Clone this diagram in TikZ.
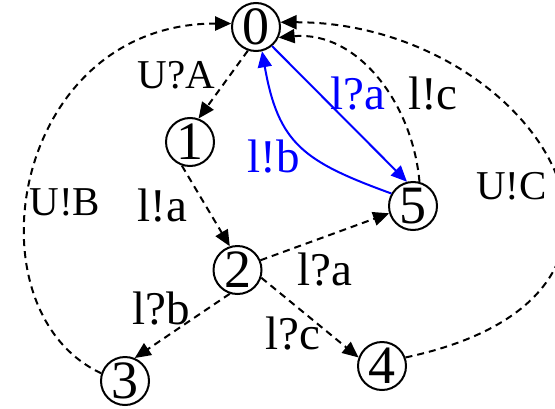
\documentclass[tikz,border=0pt]{standalone}
\usepackage{fontspec}
\setmainfont{Liberation Serif}
\usetikzlibrary{arrows.meta}

\begin{document}
\begin{tikzpicture}[
        x=0.5pt, y=0.5pt,
        state/.style={circle, draw, line width=1pt, minimum size=24pt, inner sep=0pt, font=\fontsize{27}{27}\selectfont},
        msg/.style={inner sep=0pt, font=\fontsize{23.5}{23.5}\selectfont},
        sync/.style={inner sep=0pt, font=\fontsize{20.5}{20.5}\selectfont},
        trans/.style={line width=1pt, dash pattern=on 3.5pt off 2.5pt, -{Triangle[length=8pt, width=7pt]}},
        local/.style={line width=1pt, blue, -{Triangle[length=8pt, width=7pt]}}
    ]
        \useasboundingbox (0,0) rectangle (555,408);

        % States
        \node[state] (s0) at (256,381) {0};
        \node[state] (s1) at (190,266) {1};
        \node[state] (s2) at (237.5,138) {2};
        \node[state] (s3) at (125,27) {3};
        \node[state] (s4) at (382,42) {4};
        \node[state] (s5) at (413,202) {5};

        % Transitions
        \draw[trans] (s0.251) -- (s1.70);
        \draw[trans] (s1.251) -- (s2.108);
        \draw[trans] (s2.252) -- (s3.67);
        \draw[trans] (s2.23) -- (s5.197);
        \draw[trans] (s2.342) -- (s4.160);
        \draw[trans] (s5.75) to[out=95, in=5] (s0.335);
        \draw[trans] (s4.20) .. controls +(12:310) and +(0:250) .. (s0.11);
        \draw[trans] (s3.162) .. controls +(155:150) and +(180:220) .. (s0.172);

        % Local loop
        \draw[local] (s0.310) -- (s5.104);
        \draw[local] (s5.150) to[out=160, in=-80, looseness=1.25] (s0.284);

        % Labels
        \node[sync] (lUA) at (176.5,333) {U?A};
        \node[msg] (l12) at (162.5,202) {l!a};
        \node[msg] (l23) at (161.5,99) {l?b};
        \node[msg] (l25) at (324.5,138) {l?a};
        \node[msg] (l24) at (292.5,74.5) {l?c};
        \node[msg, blue] (l05) at (357.5,314) {l?a};
        \node[msg] (l50c) at (433,314) {l!c};
        \node[msg, blue] (l50b) at (274,251.5) {l!b};
        \node[sync] (l40) at (511.5,221.5) {U!C};
        \node[sync] (l30) at (65,205.5) {U!B};
\end{tikzpicture}
\end{document}
